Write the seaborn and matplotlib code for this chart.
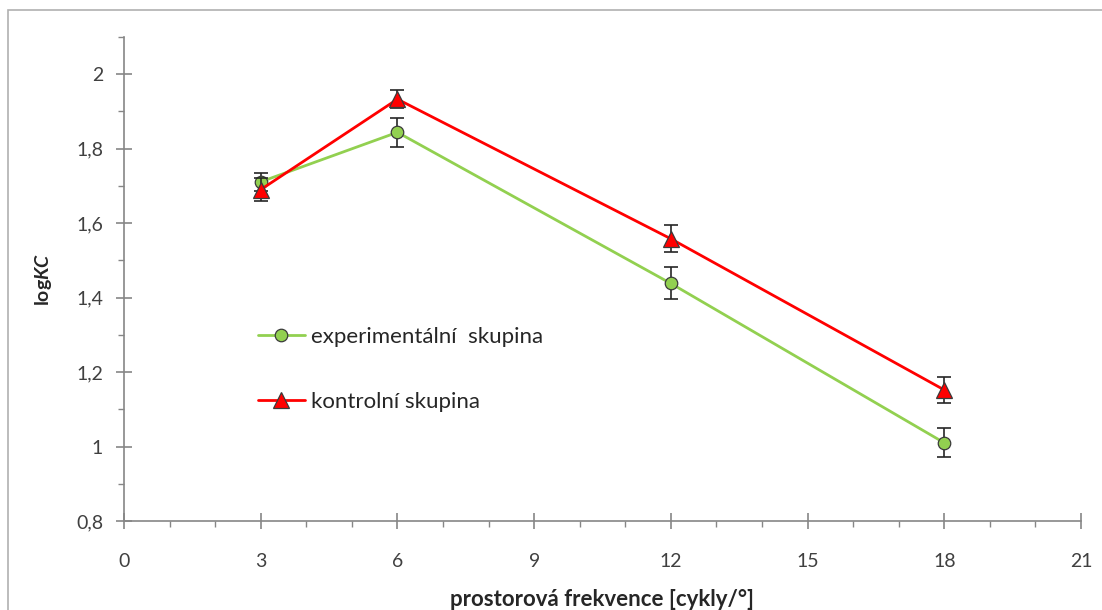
import matplotlib
matplotlib.use("Agg")
import matplotlib.pyplot as plt
import matplotlib.patches as mpatches
import seaborn as sns
import pandas as pd
import numpy as np

# ---- data ----
freq = [3, 6, 12, 18]
exp_vals = [1.711, 1.844, 1.438, 1.010]
exp_err = [0.025, 0.039, 0.043, 0.039]
ctrl_vals = [1.690, 1.933, 1.558, 1.152]
ctrl_err = [0.030, 0.025, 0.036, 0.035]
exp_label = "experimentální  skupina"
ctrl_label = "kontrolní skupina"
xticks = [0, 3, 6, 9, 12, 15, 18, 21]
yticks = [0.8, 1.0, 1.2, 1.4, 1.6, 1.8, 2.0]
ytick_labels = ["0,8", "1", "1,2", "1,4", "1,6", "1,8", "2"]
xlabel = "prostorová frekvence [cykly/°]"

sns.set_theme(style="white")
plt.rcParams['font.family'] = ['Lato', 'DejaVu Sans']
plt.rcParams['mathtext.fontset'] = 'custom'
plt.rcParams['mathtext.rm'] = 'Lato'
plt.rcParams['mathtext.bf'] = 'Lato:bold'
plt.rcParams['mathtext.it'] = 'Lato:italic'
plt.rcParams['mathtext.bfit'] = 'Lato:bold:italic'

GREEN = "#92D050"
RED = "#FF0000"
AXC = "#868686"
TXT = "#404040"

fig = plt.figure(figsize=(11.02, 6.10), dpi=100)
ax = fig.add_axes([124/1102, 1-521/610, (1081-124)/1102, (521-37)/610])

df_e = pd.DataFrame({"f": freq, "v": exp_vals})
df_c = pd.DataFrame({"f": freq, "v": ctrl_vals})

sns.lineplot(data=df_e, x="f", y="v", ax=ax, color=GREEN, lw=2.0,
             marker="o", markersize=9, markerfacecolor=GREEN,
             markeredgecolor="#3a3a3a", markeredgewidth=0.9, zorder=3,
             label=exp_label)
ax.errorbar(freq, exp_vals, yerr=exp_err, fmt="none", ecolor="#262626",
            elinewidth=1.2, capsize=5, capthick=1.2, zorder=2.5)
sns.lineplot(data=df_c, x="f", y="v", ax=ax, color=RED, lw=2.0,
             marker="^", markersize=11, markerfacecolor=RED,
             markeredgecolor="#3a3a3a", markeredgewidth=0.9, zorder=5,
             label=ctrl_label)
ax.errorbar(freq, ctrl_vals, yerr=ctrl_err, fmt="none", ecolor="#262626",
            elinewidth=1.2, capsize=5, capthick=1.2, zorder=4.5)

ax.set_xlim(0, 21)
ax.set_ylim(0.8, 2.1)
ax.set_xticks(xticks)
ax.set_xticklabels([str(t) for t in xticks])
ax.set_yticks(yticks)
ax.set_yticklabels(ytick_labels)
ax.set_xticks(np.arange(0, 22, 1), minor=True)
ax.set_yticks(np.arange(0.8, 2.1001, 0.1), minor=True)

for s in ["top", "right"]:
    ax.spines[s].set_visible(False)
for s in ["left", "bottom"]:
    ax.spines[s].set_color(AXC)
    ax.spines[s].set_linewidth(1.2)

ax.tick_params(axis="x", which="major", direction="inout", length=12, width=1.2,
               color=AXC, pad=17, labelsize=14, labelcolor=TXT, bottom=True)
ax.tick_params(axis="y", which="major", direction="inout", length=12, width=1.2,
               color=AXC, pad=9, labelsize=14, labelcolor=TXT, left=True)
ax.tick_params(axis="both", which="minor", direction="out", length=4.5, width=1.0,
               color=AXC)
ax.tick_params(axis="x", which="minor", bottom=True)
ax.tick_params(axis="y", which="minor", left=True)

ax.set_xlabel(xlabel, fontsize=16, fontweight="bold", color="#262626", labelpad=14)
ax.set_ylabel(r"$\mathbf{log}\mathbfit{KC}$", fontsize=14, color="#262626", labelpad=16)

leg = ax.legend(handles=[l for l in ax.lines if l.get_label() in (exp_label, ctrl_label)],
                labels=[exp_label, ctrl_label],
                loc="center left", bbox_to_anchor=(0.14, 0.313), frameon=False,
                fontsize=16, handlelength=2.1, handletextpad=0.3,
                labelspacing=2.02, borderpad=0, borderaxespad=0)
for t in leg.get_texts():
    t.set_color("#262626")

rect = mpatches.Rectangle((8/1102, -0.2), 1.2, 1 - 10/610 + 0.2,
                          transform=fig.transFigure, fill=False,
                          edgecolor="#b0b0b0", lw=1.2, clip_on=False)
fig.patches.append(rect)

fig.savefig("out.png", dpi=100)
